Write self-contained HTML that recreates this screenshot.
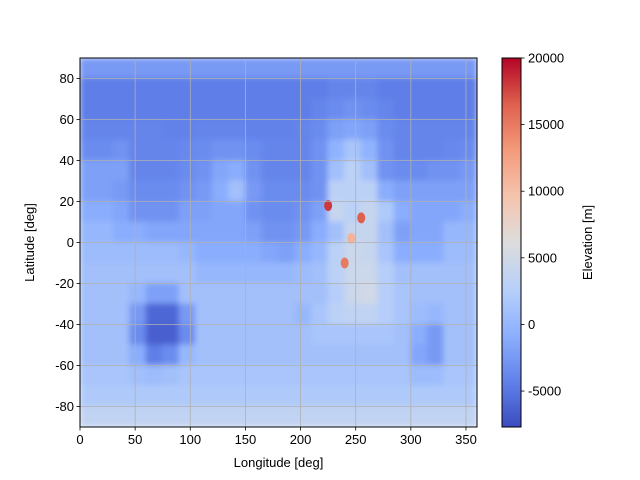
<!DOCTYPE html>
<html><head><meta charset="utf-8">
<style>
body{margin:0;background:#fff;font-family:"Liberation Sans",sans-serif;}
svg{display:block}
text{font-family:"Liberation Sans",sans-serif;font-size:13px;fill:#000}
</style></head>
<body>
<svg id="chart" width="640" height="480">
<defs>
<clipPath id="plotclip"><rect x="80" y="58" width="397" height="369"/></clipPath>
<filter id="soft" x="-5%" y="-5%" width="110%" height="110%"><feGaussianBlur stdDeviation="3" edgeMode="duplicate"/></filter>
<linearGradient id="cbgrad" x1="0" y1="1" x2="0" y2="0">
<stop offset="0" stop-color="rgb(59,76,192)"/><stop offset="0.125" stop-color="rgb(98,130,234)"/>
<stop offset="0.25" stop-color="rgb(141,176,254)"/><stop offset="0.375" stop-color="rgb(184,208,249)"/>
<stop offset="0.5" stop-color="rgb(221,221,221)"/><stop offset="0.625" stop-color="rgb(245,196,173)"/>
<stop offset="0.75" stop-color="rgb(244,154,123)"/><stop offset="0.875" stop-color="rgb(222,96,77)"/>
<stop offset="1" stop-color="rgb(180,4,38)"/></linearGradient>
</defs>
<g clip-path="url(#plotclip)"><g id="cells" filter="url(#soft)"></g><g id="peaks"></g></g>
<g id="grid"></g>
<rect x="80" y="58" width="397" height="369" fill="none" stroke="#000" stroke-width="1"/>
<g id="xticks"></g>
<g id="yticks"></g>
<text x="278.5" y="467" text-anchor="middle">Longitude [deg]</text>
<text transform="translate(34,242.5) rotate(-90)" text-anchor="middle">Latitude [deg]</text>
<rect x="502" y="58" width="19" height="369" fill="url(#cbgrad)" stroke="#000" stroke-width="1"/>
<g id="cbticks"></g>
<text transform="translate(592,242.5) rotate(-90)" text-anchor="middle">Elevation [m]</text>
</svg>
<script>
const lonEdges = [0,15,30,45,60,75,90,105,120,135,150,165,180,195,210,225,240,255,270,285,300,315,330,345,360];
const latRows = [85,75,65,55,45,35,25,15,5,-5,-15,-25,-35,-45,-55,-65,-75,-85];
// elevation in km, 24 columns per row (15 deg each)
const elevRows = [
"-2.5 -2.5 -2.5 -2.5 -2.5 -2.5 -2.5 -2.5 -2.5 -2.5 -2.5 -2.5 -2.5 -2.5 -2.5 -2.5 -2.5 -2.5 -2.5 -2.5 -2.5 -2.5 -2.5 -2.5",
"-4.5 -4.5 -4.5 -4.5 -4.5 -4.5 -4.5 -4.5 -4.5 -4.5 -4.5 -4.5 -4.5 -4.5 -4.5 -4 -4 -4 -4.5 -4.5 -4.5 -4.5 -4.5 -4.5",
"-4.5 -4.5 -4.5 -4.5 -4.5 -4.5 -4.5 -4.5 -4.5 -4.5 -4.5 -4.5 -4.5 -4.5 -4 -3.5 -3 -3.5 -4 -4.5 -4.5 -4.5 -4.5 -4.5",
"-4 -4 -4 -4 -4 -4.2 -4.2 -4 -4 -4 -4.2 -4.2 -4.2 -4 -3.5 -2 -1.5 -2 -3.5 -4 -4 -4 -4 -4",
"-3.5 -3.5 -3 -4 -4 -4 -3.8 -3.5 -3 -3 -3.5 -4 -4 -4 -3 -0.5 1.5 -0.5 -3 -4 -4 -4 -3.8 -3.5",
"-2 -2 -2 -4 -4 -4 -3.5 -3 -1.5 -1 -3 -4 -4 -4 -3 1 3 1 -3 -3.5 -3.5 -3 -3 -2.5",
"-2 -2 -2.5 -3.5 -3.5 -3.5 -3 -2.5 -1 1 -2.5 -3.5 -3.5 -3.5 -3 3 3 3 -1 -2 -2 -2 -2 -2",
"-1 -1 -1.5 -3 -3 -3 -2 -2 -1.5 -1.5 -3 -3.5 -3.5 -3 -2 4 3 4 2 -1 -1.5 -1.5 -1.5 -1",
"0 0 -1 -1 -1.5 -1.5 -1.5 -1.5 -1.5 -1.5 -2 -3 -3 -2.5 -1 1 4 4 1 -2 -1.5 -1.5 0 0",
"0.5 0.5 0.5 0.5 0.5 0.5 0 -1 -1 -1 -1 -1.5 -2 -1 0 3 4.5 4 1.5 -1 -1 -1 0.5 0.5",
"1 1 1 1 1 1 1 0 0 0 0 0 0 0.5 1 3 4.5 4.5 2.5 1 1 1 1 1",
"1 1 1 0 -2 -2 1 1 1 1 1 1 1 1 1 2.5 4.5 5 2.5 1.5 1 1 1 1",
"1 1 1 -2.5 -6 -6 -2.5 1 1 1 1 1 1 0 1.5 3 3.5 3.5 2.5 1.5 0.5 0 1 1",
"1 1 1 -3.5 -6.5 -6.5 -3.5 1 1 1 1 1 1 1 1.5 1.5 1.5 1.5 1.5 1 -1 -2.5 1 1",
"1 1 1 -1 -4.5 -3.5 0 1 1 1 1 1 1 1 1 1 1 1 1 1 -1.5 -2.5 1 1",
"1.5 1.5 1.5 1 0.5 1 1.5 1.5 1.5 1.5 1.5 1.5 1.5 1.5 1.5 1.5 1.5 1.5 1.5 1.5 0.5 0.5 1.5 1.5",
"2 2 2 2 2 2 2 2 2 2 2 2 2 2 2 2 2 2 2 2 2 2 2 2",
"3.5 3.5 3.5 3.5 3.5 3.5 3.5 3.5 3.5 3.5 3.5 3.5 3.5 3.5 3.5 3.5 3.5 3.5 3.5 3.5 3.5 3.5 3.5 3.5"
];
const peakLon = [225, 255, 240, 246];
const peakLat = [18, 12, -10, 2];
const peakElev = [18000, 16500, 15000, 11000];
const xTickVals = [0,50,100,150,200,250,300,350];
const yTickVals = [-80,-60,-40,-20,0,20,40,60,80];
const cbTickVals = [-5000,0,5000,10000,15000,20000];
const cbMin = -7700, cbMax = 20000;

const X0=80,X1=477,Y0=58,Y1=427;
const xs = v => X0 + (v/360)*(X1-X0);
const ys = v => Y0 + ((90-v)/180)*(Y1-Y0);
const cs = v => Y1 - ((v-cbMin)/(cbMax-cbMin))*(Y1-Y0);
const stops=[[59,76,192],[98,130,234],[141,176,254],[184,208,249],[221,221,221],[245,196,173],[244,154,123],[222,96,77],[180,4,38]];
function cmap(v){let t=(v-cbMin)/(cbMax-cbMin);t=Math.max(0,Math.min(1,t));const p=t*8;const i=Math.min(7,Math.floor(p));const f=p-i;
const c=stops[i].map((a,k)=>Math.round(a+(stops[i+1][k]-a)*f));return `rgb(${c[0]},${c[1]},${c[2]})`;}
const NS="http://www.w3.org/2000/svg";
function mk(tag,attrs,parent){const e=document.createElementNS(NS,tag);for(const k in attrs)e.setAttribute(k,attrs[k]);parent.appendChild(e);return e;}
const cells=document.getElementById('cells');
elevRows.forEach((row,r)=>{
  const vals=row.trim().split(/\s+/).map(Number);
  const lat=latRows[r];
  vals.forEach((v,c)=>{
    const el=mk('rect',{x:xs(lonEdges[c])-0.5,y:ys(lat+5)-0.5,width:xs(lonEdges[c+1])-xs(lonEdges[c])+1,height:ys(lat-5)-ys(lat+5)+1,fill:cmap(v*1000)},cells);
    
    
  });
});
const peaks=document.getElementById('peaks');
peakLon.forEach((lo,i)=>{
  const el=mk('ellipse',{cx:xs(lo),cy:ys(peakLat[i]),rx:4,ry:5.5,fill:cmap(peakElev[i])},peaks);
  
  
});
const grid=document.getElementById('grid'),xt=document.getElementById('xticks'),yt=document.getElementById('yticks'),cb=document.getElementById('cbticks');
xTickVals.forEach(v=>{const x=xs(v);
  if(v>0){const g=mk('line',{x1:x,x2:x,y1:Y0,y2:Y1,stroke:'#b0b0b0','stroke-width':0.8},grid);}
  mk('line',{x1:x,x2:x,y1:Y1,y2:Y1+3.5,stroke:'#000','stroke-width':0.8},xt);
  const t=mk('text',{x:x,y:Y1+17,'text-anchor':'middle'},xt);t.textContent=v;
  
});
yTickVals.forEach(v=>{const y=ys(v);
  const g=mk('line',{x1:X0,x2:X1,y1:y,y2:y,stroke:'#b0b0b0','stroke-width':0.8},grid);
  mk('line',{x1:X0-3.5,x2:X0,y1:y,y2:y,stroke:'#000','stroke-width':0.8},yt);
  const t=mk('text',{x:X0-6,y:y+4.5,'text-anchor':'end'},yt);t.textContent=v;
  
});
cbTickVals.forEach(v=>{const y=cs(v);
  mk('line',{x1:521,x2:524.5,y1:y,y2:y,stroke:'#000','stroke-width':0.8},cb);
  const t=mk('text',{x:528,y:y+4.5},cb);t.textContent=v;
  
});
</script>
</body></html>
